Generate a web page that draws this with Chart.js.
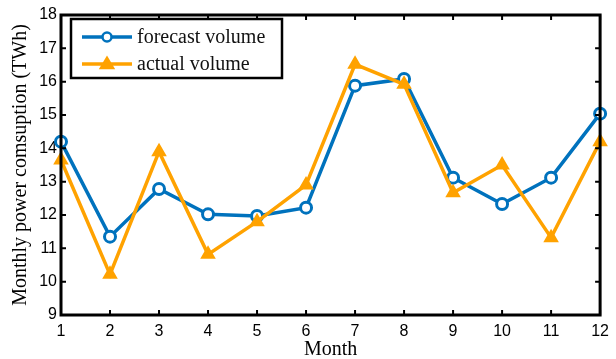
<!DOCTYPE html>
<html>
<head>
<meta charset="utf-8">
<script src="https://cdn.jsdelivr.net/npm/chart.js@4.4.1/dist/chart.umd.min.js"></script>
<style>
  html, body { margin: 0; padding: 0; background: #fff; }
  #wrap { width: 616px; height: 359px; position: relative; }
</style>
</head>
<body>
<div id="wrap"><canvas id="chart" width="616" height="359"></canvas></div>
<script>
// Chart data
const months = ['1', '2', '3', '4', '5', '6', '7', '8', '9', '10', '11', '12'];
const forecastVolume = [14.2, 11.35, 12.78, 12.02, 11.97, 12.22, 15.88, 16.08, 13.12, 12.33, 13.12, 15.04];
const actualVolume = [13.65, 10.22, 13.9, 10.82, 11.8, 12.9, 16.52, 15.92, 12.67, 13.5, 11.32, 14.2];
const yTicks = [9, 10, 11, 12, 13, 14, 15, 16, 17, 18];

const blue = '#0072BD';
const orange = '#FFA200';

// Box + inward ticks, MATLAB style
const boxPlugin = {
    id: 'box',
    afterDatasetsDraw(chart) {
        const { ctx, chartArea: a, scales } = chart;
        ctx.save();
        ctx.strokeStyle = '#000';
        ctx.lineWidth = 3;
        ctx.strokeRect(a.left, a.top, a.right - a.left, a.bottom - a.top);
        ctx.lineWidth = 2;
        const len = 5;
        ctx.beginPath();
        months.forEach((m, i) => {
            const x = scales.x.getPixelForValue(i);
            ctx.moveTo(x, a.bottom); ctx.lineTo(x, a.bottom - len);
            ctx.moveTo(x, a.top); ctx.lineTo(x, a.top + len);
        });
        yTicks.forEach(v => {
            const y = scales.y.getPixelForValue(v);
            ctx.moveTo(a.left, y); ctx.lineTo(a.left + len, y);
            ctx.moveTo(a.right, y); ctx.lineTo(a.right - len, y);
        });
        ctx.stroke();
        ctx.restore();
    }
};

// Legend box with line + marker samples
const legendPlugin = {
    id: 'boxLegend',
    afterDraw(chart) {
        const { ctx } = chart;
        const x0 = 71, y0 = 19, w = 211, h = 59;
        ctx.save();
        ctx.fillStyle = '#fff';
        ctx.fillRect(x0, y0, w, h);
        ctx.strokeStyle = '#000';
        ctx.lineWidth = 2.5;
        ctx.strokeRect(x0, y0, w, h);
        ctx.font = '20px "Liberation Serif", serif';
        ctx.textBaseline = 'middle';
        chart.data.datasets.forEach((ds, i) => {
            const y = 37 + i * 27;
            ctx.strokeStyle = ds.borderColor;
            ctx.lineWidth = 3.5;
            ctx.beginPath();
            ctx.moveTo(82, y); ctx.lineTo(132, y);
            ctx.stroke();
            ctx.lineWidth = 2.5;
            ctx.beginPath();
            if (ds.pointStyle === 'circle') {
                ctx.fillStyle = '#fff';
                ctx.arc(107, y, 4.5, 0, Math.PI * 2);
                ctx.fill();
                ctx.stroke();
            } else {
                ctx.fillStyle = ds.borderColor;
                ctx.moveTo(107, y - 6); ctx.lineTo(113, y + 4); ctx.lineTo(101, y + 4);
                ctx.closePath();
                ctx.fill();
                ctx.stroke();
            }
            ctx.fillStyle = '#111';
            ctx.fillText(ds.label, 137, y + 1);
        });
        ctx.restore();
    }
};

new Chart(document.getElementById('chart'), {
    type: 'line',
    data: {
        labels: months,
        datasets: [{
            label: 'forecast volume',
            data: forecastVolume,
            borderColor: blue,
            backgroundColor: '#fff',
            pointBackgroundColor: '#fff',
            pointBorderColor: blue,
            pointStyle: 'circle',
            pointRadius: 5.5,
            pointBorderWidth: 3,
            borderWidth: 3.5,
            tension: 0,
            order: 1
        }, {
            label: 'actual volume',
            data: actualVolume,
            borderColor: orange,
            backgroundColor: orange,
            pointBackgroundColor: orange,
            pointBorderColor: orange,
            pointStyle: 'triangle',
            pointRadius: 7,
            pointBorderWidth: 2,
            borderWidth: 3.5,
            tension: 0,
            order: 0
        }]
    },
    options: {
        responsive: false,
        animation: false,
        events: [],
        layout: { padding: { top: 15, right: 11, left: 0, bottom: 0 } },
        plugins: {
            legend: { display: false },
            tooltip: { enabled: false }
        },
        scales: {
            x: {
                type: 'category',
                offset: false,
                grid: { display: false, drawTicks: false },
                border: { display: false },
                ticks: {
                    color: '#000',
                    padding: 7,
                    autoSkip: false,
                    maxRotation: 0,
                    font: { family: '"Liberation Sans", Arial, sans-serif', size: 16 }
                },
                title: {
                    display: true,
                    text: 'Month',
                    color: '#000',
                    padding: { top: 0, bottom: -3 },
                    font: { family: '"Liberation Serif", "Times New Roman", serif', size: 20 }
                },
                afterFit(scale) { scale.height = 44; }
            },
            y: {
                min: 9,
                max: 18,
                grid: { display: false, drawTicks: false },
                border: { display: false },
                afterBuildTicks(scale) { scale.ticks = yTicks.map(v => ({ value: v })); },
                ticks: {
                    color: '#000',
                    padding: 4,
                    font: { family: '"Liberation Sans", Arial, sans-serif', size: 16 }
                },
                title: {
                    display: true,
                    text: 'Monthly power comsuption (TWh)',
                    color: '#000',
                    padding: { top: 9, bottom: 0 },
                    font: { family: '"Liberation Serif", "Times New Roman", serif', size: 20 }
                },
                afterFit(scale) { scale.width = 61; }
            }
        }
    },
    plugins: [boxPlugin, legendPlugin]
});
</script>
</body>
</html>
